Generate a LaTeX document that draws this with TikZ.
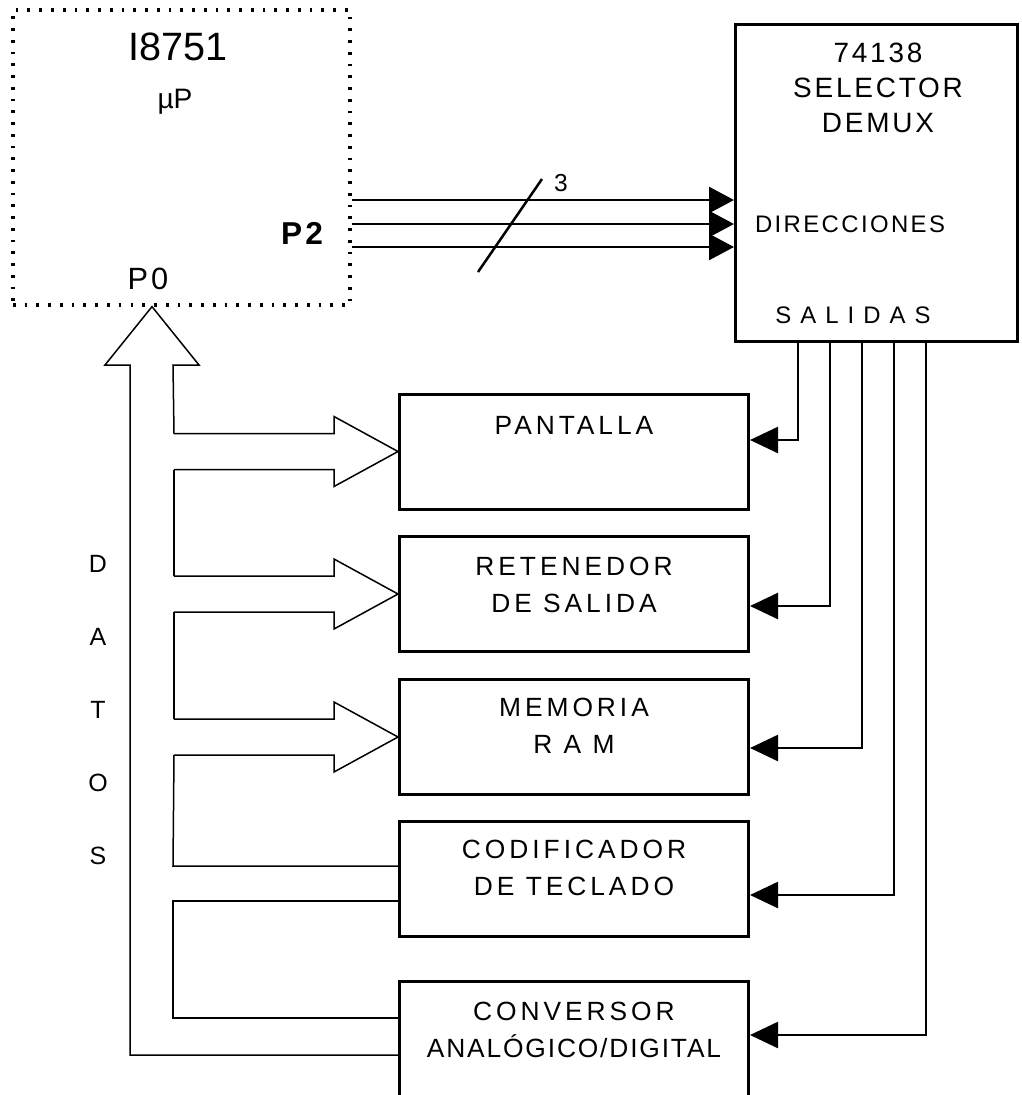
\documentclass[tikz,border=0pt]{standalone}
\usepackage{fontspec}
\setmainfont{Liberation Sans}
\newfontfamily\boxfont[LetterSpace=15]{Liberation Sans}
\newfontfamily\selfont[LetterSpace=10]{Liberation Sans}
\newfontfamily\narrowfont[LetterSpace=7]{Liberation Sans}
\usepackage{tikz}
\usetikzlibrary{calc,arrows.meta}
\tikzset{
  unit/.style={draw,line width=0.6mm,minimum width=69.8mm,minimum height=23mm,inner sep=0pt},
  dotbox/.style={draw,line width=0.65mm,dash pattern=on 0.55mm off 1.8mm,inner sep=0pt},
  lbl/.style={font=\boxfont\fontsize{15}{21}\selectfont,align=center,inner sep=0pt},
  sellbl/.style={font=\selfont\fontsize{15.9}{20.1}\selectfont,align=center,inner sep=0pt},
  sig/.style={line width=0.5mm,-{Triangle[length=5mm,width=5.2mm]}},
  outln/.style={line width=0.5mm,-{Triangle[length=5.6mm,width=5.2mm]}},
  buswire/.style={line width=0.3mm,line join=miter}
}

\begin{document}
\begin{tikzpicture}[x=0.2mm,y=-0.2mm]
\useasboundingbox (0,0) rectangle (1021,1095);
% microprocesador y decodificador
\node[dotbox,minimum width=67.4mm,minimum height=59mm] (up) at (181.5,157.5) {};
\node[unit,minimum width=56.4mm,minimum height=63.4mm] (sel) at (876.5,183) {};
\node[font=\fontsize{22.5}{27}\selectfont] (upname) at (178,47) {I8751};
\node[font=\fontsize{16}{19}\selectfont,anchor=base] (uptype) at (175,108) {µP};
\node[font=\selfont\bfseries\fontsize{18}{21}\selectfont] (p2) at (302,233) {P2};
\node[font=\selfont\fontsize{17.5}{21}\selectfont] (p0) at (148,279) {P0};
\node[sellbl] (selname) at (878,88) {74138\\SELECTOR\\DEMUX};
\node[font=\selfont\fontsize{13.6}{16}\selectfont] (dir) at (850,224) {DIRECCIONES};
\node[font=\selfont\fontsize{13.6}{16}\selectfont] (sal) at (853,315) {S A L I D A S};
% perifericos
\node[unit] (pant) at (574,451.5) {};
\node[unit] (ret) at (574,594) {};
\node[unit] (mem) at (574,737) {};
\node[unit] (cod) at (574,879) {};
\node[unit] (conv) at (574,1039) {};
\node[lbl] at ($(pant.north)+(0,33)$) {PANTALLA};
\node[lbl] at ($(ret.north)+(0,50)$) {RETENEDOR\\DE SALIDA};
\node[lbl] at ($(mem.north)+(0,48)$) {MEMORIA\\R A M};
\node[lbl] at ($(cod.north)+(0,48)$) {CODIFICADOR\\DE TECLADO};
\node[lbl] at ($(conv.north)+(0,50)$) {CONVERSOR\\{\narrowfont ANALÓGICO/DIGITAL}};
% bus de direcciones P2
\foreach \yy in {200,224,247}
  \draw[sig] (up.east |- 0,\yy) -- (sel.west |- 0,\yy);
\draw[line width=0.5mm] (478,272) -- (542,179);
\node[font=\fontsize{14}{16}\selectfont] (nbits) at (561,183) {3};
% salidas del selector
\foreach \xx/\b/\yy in {798/pant/440, 830/ret/606, 862/mem/748, 894/cod/895, 926/conv/1035}
  \draw[outln] (sel.south -| \xx,0) |- (\b.east |- 0,\yy);
% bus de datos
\draw[buswire] (conv.west |- 0,1055) -- (130,1055) -- (130,365) -- (105,365)
  -- (up.south -| 152,0) -- (199,365) -- (173,365) -- ($(pant.west)+(-224,-18)$);
\foreach \b in {pant,ret,mem}
  \draw[buswire] ($(\b.west)+(-224,-18)$) -| ++(160,-17) -- (\b.west) -- ++(-64,35) -- ++(0,-17) -- ++(-160,0);
\draw[buswire] ($(pant.west)+(-224,18)$) -- ($(ret.west)+(-224,-18)$);
\draw[buswire] ($(ret.west)+(-224,18)$) -- ($(mem.west)+(-224,-18)$);
\draw[buswire] ($(mem.west)+(-224,18)$) -- (173,866) -- (cod.west |- 0,866);
\draw[buswire] (cod.west |- 0,901) -- (173,901) -- (173,1018) -- (conv.west |- 0,1018);
\foreach \c [count=\i] in {D,A,T,O,S}
  \node[font=\fontsize{14.2}{17}\selectfont] (dat\i) at (98,{491+73*\i}) {\c};
\end{tikzpicture}
\end{document}
